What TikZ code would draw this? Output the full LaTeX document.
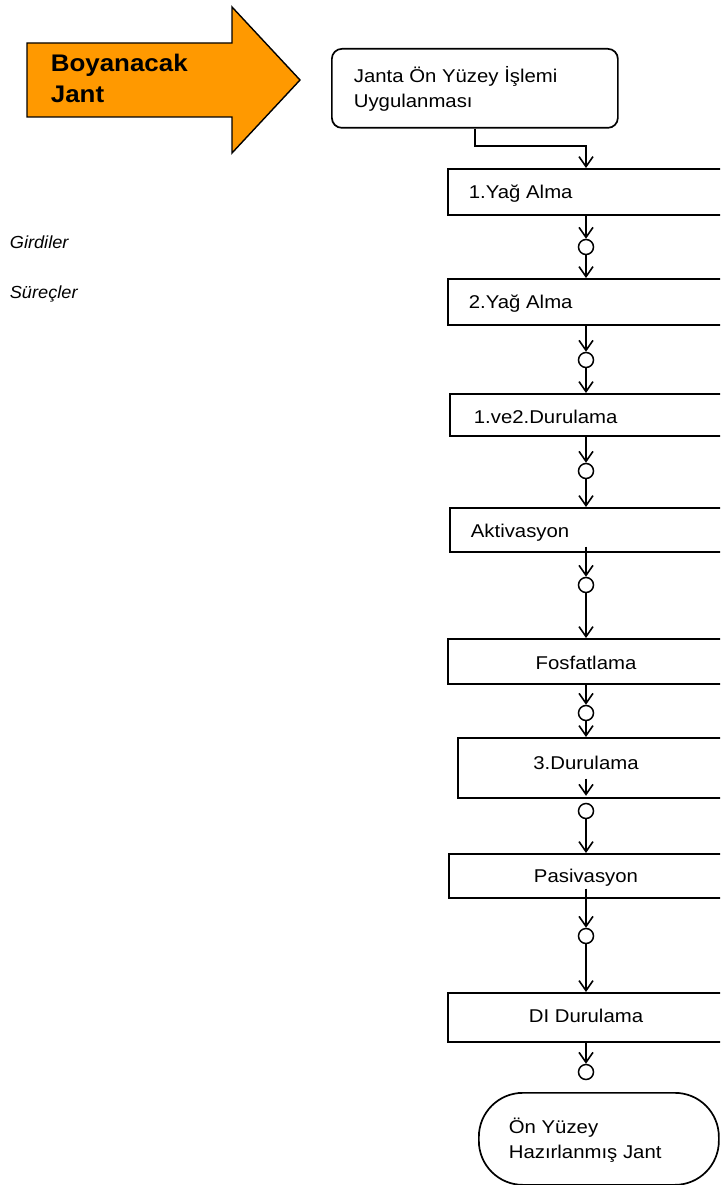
\documentclass[tikz,border=0pt]{standalone}
\usepackage{fontspec}
\setmainfont{Liberation Sans}
\newfontfamily\lblfont{Liberation Sans}[FakeStretch=1.1]
\newfontfamily\headfont{Liberation Sans}[FakeStretch=1.08]
\newfontfamily\sidefont{Liberation Sans}[FakeStretch=1.04]
\usetikzlibrary{arrows.meta}
\definecolor{arroworange}{HTML}{FF9900}
\begin{document}
\begin{tikzpicture}[x=1pt,y=-1pt,
  line width=1.7pt,
  stepbox/.style={draw, rectangle, anchor=north west, inner sep=0pt},
  joint/.style={draw, circle, minimum size=15pt, inner sep=0pt, line width=1.5pt},
  flow/.style={-{Straight Barb[length=10pt,width=14pt]}, line width=1.6pt},
  lab/.style={inner sep=0pt, anchor=base west, font=\lblfont\fontsize{18.5}{25}\selectfont, align=left},
  labc/.style={inner sep=0pt, anchor=base, font=\lblfont\fontsize{18.5}{25}\selectfont},
  side/.style={inner sep=0pt, anchor=base west, font=\sidefont\itshape\fontsize{17.5}{20}\selectfont}]
\useasboundingbox (0,0) rectangle (720,1185);
\clip (0,0) rectangle (720,1185);

% input arrow
\filldraw[fill=arroworange, draw=black, line width=1.4pt]
  (27,43) -- (232,43) -- (232,7) -- (300,80) -- (232,153) -- (232,117) -- (27,117) -- cycle;
\node[inner sep=0pt, anchor=base west, align=left,
      font=\headfont\bfseries\fontsize{24}{31}\selectfont] (input) at (50,103) {Boyanacak\\Jant};

% legend
\node[side] (girdi) at (9,248) {Girdiler};
\node[side] (surec) at (9,298) {Süreçler};

% start box
\node[draw, rectangle, rounded corners=10pt, anchor=north west, inner sep=0pt,
      minimum width=286pt, minimum height=79pt] (start) at (331,48) {};
\node[lab] (startlbl) at (353,108) {Janta Ön Yüzey İşlemi\\Uygulanması};

% process boxes
\node[stepbox, minimum width=290pt, minimum height=46pt] (b1) at (447,168) {};
\node[stepbox, minimum width=290pt, minimum height=46pt] (b2) at (447,278) {};
\node[stepbox, minimum width=290pt, minimum height=42pt] (b3) at (449,393) {};
\node[stepbox, minimum width=290pt, minimum height=44pt] (b4) at (449,507) {};
\node[stepbox, minimum width=290pt, minimum height=45pt] (b5) at (447,638) {};
\node[stepbox, minimum width=290pt, minimum height=60pt] (b6) at (457,737) {};
\node[stepbox, minimum width=290pt, minimum height=44pt] (b7) at (448,853) {};
\node[stepbox, minimum width=290pt, minimum height=49pt] (b8) at (447,992) {};

\node[lab] (l1) at (468,198) {1.Yağ Alma};
\node[lab] (l2) at (468,308) {2.Yağ Alma};
\node[lab] (l3) at (473,423) {1.ve2.Durulama};
\node[lab] (l4) at (470,537) {Aktivasyon};
\node[labc] (l5) at (586,669) {Fosfatlama};
\node[labc] (l6) at (586,769) {3.Durulama};
\node[labc] (l7) at (586,882) {Pasivasyon};
\node[labc] (l8) at (586,1022) {DI Durulama};

% junction circles
\node[joint] (c1) at (586,247) {};
\node[joint] (c2) at (586,360) {};
\node[joint] (c3) at (586,471) {};
\node[joint] (c4) at (586,585) {};
\node[joint] (c5) at (586,713) {};
\node[joint] (c6) at (586,811) {};
\node[joint] (c7) at (586,936) {};
\node[joint] (c8) at (586,1072) {};

% end terminal
\node[draw, rectangle, rounded corners=44pt, anchor=north west, inner sep=0pt,
      minimum width=240pt, minimum height=92pt] (finish) at (478,1092) {};
\node[lab] (finlbl) at (508,1158) {Ön Yüzey\\Hazırlanmış Jant};

% flow connectors
\coordinate (bend) at (586,146);
\draw[flow] (start.south) |- (bend) -- (bend |- b1.north);
\draw[flow] (b1.south -| c1) -- (c1.north);
\draw[flow] (c1.south) -- (c1 |- b2.north);
\draw[flow] (b2.south -| c2) -- (c2.north);
\draw[flow] (c2.south) -- (c2 |- b3.north);
\draw[flow] (b3.south -| c3) -- (c3.north);
\draw[flow] (c3.south) -- (c3 |- b4.north);
\draw[flow] ([yshift=6pt]b4.south -| c4) -- (c4.north);
\draw[flow] (c4.south) -- (c4 |- b5.north);
\draw[flow] (b5.south -| c5) -- (c5.north);
\draw[flow] (c5.south) -- (c5 |- b6.north);
\draw[flow] ([yshift=20pt]b6.south -| c6) -- ([yshift=7pt]c6.north);
\draw[flow] (c6.south) -- (c6 |- b7.north);
\draw[flow] ([yshift=10pt]b7.south -| c7) -- (c7.north);
\draw[flow] (c7.south) -- (c7 |- b8.north);
\draw[flow] (b8.south -| c8) -- (c8.north);
\end{tikzpicture}
\end{document}
